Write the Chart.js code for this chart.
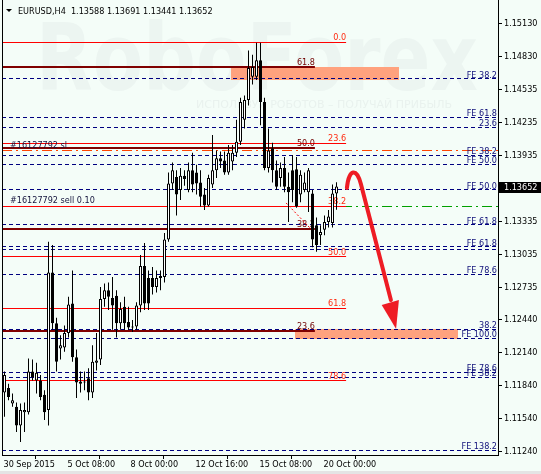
<!DOCTYPE html>
<html>
<head>
<meta charset="utf-8">
<script src="https://cdn.jsdelivr.net/npm/chart.js@4.4.0/dist/chart.umd.min.js"></script>
<style>
html, body { margin: 0; padding: 0; background: #f4fdf8; }
canvas { display: block; }
</style>
</head>
<body>
<canvas id="chart" width="541" height="474" style="width:541px;height:474px"></canvas>
<script>
const FONT = '"DejaVu Sans Condensed", "Liberation Sans", sans-serif';

// EURUSD H4 bars, index 0 = first visible bar
const opens = [
  1.1178, 1.1182, 1.1168, 1.1165, 1.1148, 1.1160, 1.1160, 1.1197, 1.1189, 1.1189,
  1.1176, 1.1162, 1.1287, 1.1241, 1.1218, 1.1219, 1.1232, 1.1259, 1.1210, 1.1188,
  1.1187, 1.1191, 1.1178, 1.1205, 1.1208, 1.1263, 1.1271, 1.1264, 1.1266, 1.1241,
  1.1256, 1.1242, 1.1237, 1.1238, 1.1257, 1.1293, 1.1282, 1.1282, 1.1274, 1.1282,
  1.1283, 1.1317, 1.1368, 1.1374, 1.1362, 1.1375, 1.1362, 1.1380, 1.1378, 1.1369,
  1.1358, 1.1348, 1.1367, 1.1380, 1.1391, 1.1389, 1.1378, 1.1388, 1.1396, 1.1406,
  1.1426, 1.1444, 1.1465, 1.1465, 1.1480, 1.1442, 1.1382, 1.1400, 1.1380, 1.1373,
  1.1382, 1.1365, 1.1380, 1.1381, 1.1358, 1.1362, 1.1360, 1.1359, 1.1330, 1.1321,
  1.1326, 1.1333, 1.1332, 1.13588
];
const highs = [
  1.1197, 1.1186, 1.1177, 1.1169, 1.1168, 1.1169, 1.1209, 1.1208, 1.1205, 1.1194,
  1.1180, 1.1315, 1.1312, 1.1246, 1.1230, 1.1239, 1.1265, 1.1289, 1.1217, 1.1197,
  1.1197, 1.1200, 1.1221, 1.1232, 1.1274, 1.1277, 1.1278, 1.1283, 1.1271, 1.1260,
  1.1265, 1.1256, 1.1244, 1.1260, 1.1303, 1.1314, 1.1289, 1.1292, 1.1289, 1.1289,
  1.1323, 1.1378, 1.1387, 1.1380, 1.1382, 1.1380, 1.1387, 1.1396, 1.1385, 1.1380,
  1.1364, 1.1376, 1.1412, 1.1398, 1.1397, 1.1397, 1.1403, 1.1403, 1.1426, 1.1446,
  1.1448, 1.1489, 1.1485, 1.1496, 1.1496, 1.1446, 1.1418, 1.1405, 1.1389, 1.1387,
  1.1392, 1.1378, 1.1394, 1.1392, 1.1380, 1.1378, 1.1382, 1.1362, 1.1337, 1.1330,
  1.1339, 1.1344, 1.1367, 1.13691
];
const lows = [
  1.1156, 1.1171, 1.1165, 1.1142, 1.1133, 1.1142, 1.1158, 1.1189, 1.1177, 1.1171,
  1.1153, 1.1148, 1.1235, 1.1197, 1.1208, 1.1215, 1.1228, 1.1206, 1.1173, 1.1178,
  1.1180, 1.1171, 1.1173, 1.1198, 1.1203, 1.1256, 1.1253, 1.1235, 1.1228, 1.1235,
  1.1235, 1.1235, 1.1233, 1.1235, 1.1251, 1.1253, 1.1253, 1.1267, 1.1269, 1.1271,
  1.1278, 1.1315, 1.1362, 1.1339, 1.1353, 1.1366, 1.1360, 1.1360, 1.1358, 1.1347,
  1.1344, 1.1347, 1.1364, 1.1373, 1.1382, 1.1376, 1.1376, 1.1380, 1.1392, 1.1403,
  1.1418, 1.1439, 1.1458, 1.1462, 1.1421, 1.1380, 1.1378, 1.1369, 1.1362, 1.1365,
  1.1360, 1.1333, 1.1351, 1.1346, 1.1351, 1.1360, 1.1342, 1.1310, 1.1306, 1.1312,
  1.1321, 1.1328, 1.1328, 1.13441
];
const closes = [
  1.1194, 1.1174, 1.1171, 1.1148, 1.1162, 1.1162, 1.1197, 1.1192, 1.1196, 1.1174,
  1.1160, 1.1287, 1.1241, 1.1206, 1.1221, 1.1232, 1.1258, 1.1210, 1.1187, 1.1186,
  1.1188, 1.1178, 1.1206, 1.1207, 1.1263, 1.1271, 1.1265, 1.1257, 1.1241, 1.1254,
  1.1241, 1.1237, 1.1238, 1.1257, 1.1293, 1.1259, 1.1259, 1.1274, 1.1282, 1.1284,
  1.1317, 1.1368, 1.1380, 1.1358, 1.1375, 1.1372, 1.1380, 1.1367, 1.1368, 1.1356,
  1.1348, 1.1373, 1.1380, 1.1391, 1.1388, 1.1378, 1.1396, 1.1396, 1.1406, 1.1442,
  1.1444, 1.1473, 1.1474, 1.1480, 1.1442, 1.1382, 1.1398, 1.1380, 1.1365, 1.1382,
  1.1365, 1.1360, 1.1362, 1.1347, 1.1376, 1.1369, 1.1380, 1.1317, 1.1312, 1.1324,
  1.1333, 1.1338, 1.1359, 1.13652
];

const timeTicks = [-0.25, 15.75, 31.5, 47.75, 63.75, 79.75];
const timeLabels = ['30 Sep 2015', '5 Oct 08:00', '8 Oct 00:00', '12 Oct 16:00', '15 Oct 08:00', '20 Oct 00:00'];
const priceTicks = [1.15130, 1.14830, 1.14535, 1.14235, 1.13935, 1.13335, 1.13035, 1.12735, 1.12440, 1.12140, 1.11840, 1.11540, 1.11240];
const lastPrice = 1.13652;
const title = 'EURUSD,H4  1.13588 1.13691 1.13441 1.13652';

// fibo retracement (red)
const fiboLevels = ['0.0', '23.6', '38.2', '50.0', '61.8', '78.6'];
const fiboPrices = [1.14966, 1.14048, 1.13475, 1.13012, 1.12548, 1.11885];
const fiboEnd = 85.4;
// second fibo (dark red)
const fibo2Levels = ['61.8', '50.0', '38.2', '23.6'];
const fibo2Prices = [1.14739, 1.14003, 1.13266, 1.12339];
const fibo2End = 77.6;
// fibo expansion levels (dashed)
const expLevels = ['FE 38.2', 'FE 61.8', '23.6', 'FE 38.2', 'FE 50.0', 'FE 50.0', 'FE 61.8', 'FE 61.8', '', 'FE 78.6', '38.2', 'FE 100.0', 'FE 78.6', 'FE 38.2', 'FE 138.2'];
const expPrices = [1.14630, 1.14284, 1.14193, 1.13939, 1.13857, 1.13621, 1.13303, 1.13103, 1.13084, 1.12857, 1.12357, 1.12275, 1.11966, 1.11921, 1.11257];

// order #16127792
const slPrice = 1.13984;
const openPrice = 1.13475;
const tradeK = [70.4, 77.1];
const tradeP = [1.13503, 1.13248];

// target zones
const zoneFromK = [56.6, 72.6];
const zoneToK = [98.6, 113.4];
const zoneTop = [1.14739, 1.12357];
const zoneBottom = [1.14621, 1.12266];

// forecast arrow
const arrowK = [85.6, 86.1, 88.1, 89.1, 96.6];
const arrowP = [1.13639, 1.13821, 1.13821, 1.13675, 1.12621];
const headK = [94.3, 98.6, 97.9];
const headP = [1.12575, 1.12621, 1.12357];

const bodyData = opens.map((o, i) => ({ x: i, y: [o, closes[i]] }));
const wickData = opens.map((o, i) => ({ x: i, y: [lows[i], highs[i]] }));
const bodyColors = opens.map((o, i) => closes[i] >= o ? '#ffffff' : '#000000');

function hline(ctx, x1, x2, y, color, width, dash) {
    ctx.save();
    ctx.strokeStyle = color;
    ctx.lineWidth = width;
    ctx.setLineDash(dash || []);
    const yy = width % 2 ? Math.round(y - 0.5) + 0.5 : Math.round(y);
    ctx.beginPath();
    ctx.moveTo(x1, yy);
    ctx.lineTo(x2, yy);
    ctx.stroke();
    ctx.restore();
    return Math.round(y);
}

function label(ctx, text, x, y, color, align) {
    ctx.save();
    ctx.font = '9px ' + FONT;
    ctx.fillStyle = color;
    ctx.textAlign = align || 'right';
    ctx.textBaseline = 'alphabetic';
    ctx.fillText(text, x, y);
    ctx.restore();
}

const mt4Plugin = {
    id: 'mt4',
    beforeDraw(chart) {
        const ctx = chart.ctx;
        ctx.save();
        ctx.fillStyle = '#f4fdf8';
        ctx.fillRect(0, 0, chart.width, chart.height);
        ctx.fillStyle = '#e4e4e4';
        ctx.fillRect(0, 471, chart.width, chart.height - 471);
        ctx.restore();
    },
    beforeDatasetsDraw(chart) {
        const ctx = chart.ctx;
        const xs = chart.scales.x, ys = chart.scales.y;
        const area = chart.chartArea;

        // watermark
        ctx.save();
        ctx.fillStyle = '#ecf5f1';
        ctx.font = 'bold 92px "DejaVu Sans"';
        const w = ctx.measureText('RoboForex').width;
        ctx.translate(36, 90);
        ctx.scale(442 / w, 1);
        ctx.fillText('RoboForex', 0, 0);
        ctx.restore();
        ctx.save();
        ctx.fillStyle = '#e9f2ee';
        ctx.font = '11px "DejaVu Sans"';
        ctx.fillText('ИСПОЛЬЗУЙ РОБОТОВ – ПОЛУЧАЙ ПРИБЫЛЬ', 196, 108);
        ctx.restore();

        // zones
        ctx.save();
        ctx.fillStyle = '#ffa27e';
        for (let i = 0; i < zoneFromK.length; i++) {
            const x1 = Math.round(xs.getPixelForValue(zoneFromK[i]));
            const x2 = Math.round(xs.getPixelForValue(zoneToK[i]));
            const y1 = Math.round(ys.getPixelForValue(zoneTop[i]));
            const y2 = Math.round(ys.getPixelForValue(zoneBottom[i]));
            ctx.fillRect(x1, y1, x2 - x1, y2 - y1);
        }
        ctx.restore();

        // order lines
        hline(ctx, area.left, area.right, ys.getPixelForValue(openPrice), '#00a000', 1, [10, 4, 2, 4]);
        hline(ctx, area.left, area.right, ys.getPixelForValue(slPrice), '#ff4500', 1, [10, 4, 2, 4]);

        // fibo expansion
        for (let i = 0; i < expPrices.length; i++) {
            const y = hline(ctx, area.left, area.right, ys.getPixelForValue(expPrices[i]), '#000080', 1, [4, 3]);
            if (expLevels[i]) label(ctx, expLevels[i], area.right - 1, y - 1, '#10107a');
        }

        // fibo retracement red
        const fx = xs.getPixelForValue(fiboEnd);
        for (let i = 0; i < fiboPrices.length; i++) {
            const y = hline(ctx, area.left, fx, ys.getPixelForValue(fiboPrices[i]), '#ff0000', 1);
            label(ctx, fiboLevels[i], fx, y - 2, '#ff2a10');
        }
        // second fibo dark red
        const fx2 = xs.getPixelForValue(fibo2End);
        for (let i = 0; i < fibo2Prices.length; i++) {
            const y = hline(ctx, area.left, fx2, ys.getPixelForValue(fibo2Prices[i]), '#800000', 2);
            label(ctx, fibo2Levels[i], fx2, y - 2, '#700000');
        }

        // order labels
        label(ctx, '#16127792 sl', 10, Math.round(ys.getPixelForValue(slPrice)) - 2, '#14143c', 'left');
        label(ctx, '#16127792 sell 0.10', 10, Math.round(ys.getPixelForValue(openPrice)) - 3, '#14143c', 'left');

        // trade connector
        ctx.save();
        ctx.strokeStyle = '#ff0000';
        ctx.lineWidth = 1;
        ctx.setLineDash([2, 2]);
        ctx.beginPath();
        ctx.moveTo(xs.getPixelForValue(tradeK[0]), ys.getPixelForValue(tradeP[0]));
        ctx.lineTo(xs.getPixelForValue(tradeK[1]), ys.getPixelForValue(tradeP[1]));
        ctx.stroke();
        ctx.restore();

        // title
        ctx.save();
        ctx.fillStyle = '#000';
        ctx.beginPath();
        ctx.moveTo(6, 9);
        ctx.lineTo(12, 9);
        ctx.lineTo(9, 12);
        ctx.closePath();
        ctx.fill();
        ctx.restore();
        label(ctx, title, 18, 14, '#000', 'left');
    },
    afterDatasetsDraw(chart) {
        const ctx = chart.ctx;
        const xs = chart.scales.x, ys = chart.scales.y;
        const area = chart.chartArea;
        const P = (k, p) => [xs.getPixelForValue(k), ys.getPixelForValue(p)];

        // forecast arrow
        ctx.save();
        ctx.strokeStyle = '#ee1c24';
        ctx.fillStyle = '#ee1c24';
        ctx.lineWidth = 4;
        ctx.lineCap = 'round';
        const a = arrowK.map((k, i) => P(k, arrowP[i]));
        ctx.beginPath();
        ctx.moveTo(a[0][0], a[0][1]);
        ctx.bezierCurveTo(a[1][0], a[1][1], a[2][0], a[2][1], a[3][0], a[3][1]);
        ctx.lineTo(a[4][0], a[4][1]);
        ctx.stroke();
        const h = headK.map((k, i) => P(k, headP[i]));
        ctx.beginPath();
        ctx.moveTo(h[0][0], h[0][1]);
        ctx.lineTo(h[1][0], h[1][1]);
        ctx.lineTo(h[2][0], h[2][1]);
        ctx.closePath();
        ctx.fill();
        ctx.restore();

        // left border
        ctx.save();
        ctx.strokeStyle = '#000';
        ctx.lineWidth = 1;
        ctx.beginPath();
        ctx.moveTo(area.left + 0.5, area.top);
        ctx.lineTo(area.left + 0.5, area.bottom);
        ctx.stroke();
        ctx.restore();
    },
    afterDraw(chart) {
        const ctx = chart.ctx;
        const ys = chart.scales.y;
        const area = chart.chartArea;
        const y = Math.round(ys.getPixelForValue(lastPrice));
        ctx.save();
        ctx.fillStyle = '#000';
        ctx.fillRect(area.right + 1, y - 5, chart.width - area.right - 1, 11);
        ctx.restore();
        ctx.save();
        ctx.font = '9px ' + FONT;
        ctx.fillStyle = '#fff';
        ctx.textBaseline = 'middle';
        ctx.fillText(lastPrice.toFixed(5), area.right + 6, y + 0.5);
        ctx.restore();
    }
};

new Chart(document.getElementById('chart'), {
    type: 'bar',
    data: {
        datasets: [
            {
                label: 'body',
                data: bodyData,
                backgroundColor: bodyColors,
                borderColor: '#000000',
                borderWidth: 1,
                borderSkipped: false,
                barThickness: 3,
                minBarLength: 1,
                grouped: false,
                inflateAmount: 0,
                order: 0
            },
            {
                label: 'wick',
                data: wickData,
                backgroundColor: '#000000',
                borderWidth: 0,
                barThickness: 1,
                grouped: false,
                inflateAmount: 0,
                order: 1
            }
        ]
    },
    options: {
        responsive: false,
        animation: false,
        devicePixelRatio: 1,
        layout: { padding: { left: 2, right: 0, top: 0, bottom: 0 } },
        plugins: { legend: { display: false }, tooltip: { enabled: false } },
        scales: {
            x: {
                type: 'linear',
                min: -0.625,
                max: 123.375,
                offset: false,
                grid: { drawOnChartArea: false, drawTicks: true, tickLength: 4, color: '#000' },
                border: { display: true, color: '#000' },
                ticks: {
                    font: { family: FONT, size: 9 },
                    color: '#000',
                    align: 'start',
                    maxRotation: 0,
                    autoSkip: false,
                    padding: 0,
                    callback: (v, i) => timeLabels[i]
                },
                afterBuildTicks: s => { s.ticks = timeTicks.map(v => ({ value: v })); },
                afterFit: s => { s.height = 19; s.paddingLeft = 0; s.paddingRight = 0; }
            },
            y: {
                type: 'linear',
                position: 'right',
                min: 1.11212,
                max: 1.15348,
                grid: { drawOnChartArea: false, drawTicks: true, tickLength: 4, color: '#000' },
                border: { display: true, color: '#000' },
                ticks: {
                    font: { family: FONT, size: 9 },
                    color: '#000',
                    padding: 2,
                    autoSkip: false,
                    callback: v => v.toFixed(5)
                },
                afterBuildTicks: s => { s.ticks = priceTicks.map(v => ({ value: v })); },
                afterFit: s => { s.width = 43; s.paddingTop = 0; s.paddingBottom = 0; }
            }
        }
    },
    plugins: [mt4Plugin]
});
</script>
</body>
</html>
